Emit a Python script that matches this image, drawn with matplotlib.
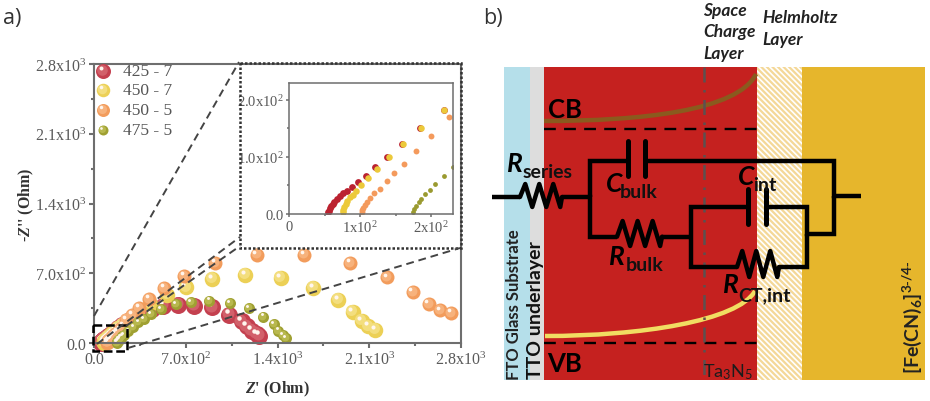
import matplotlib
matplotlib.use('Agg')
import matplotlib.pyplot as plt
from matplotlib.patches import PathPatch, Rectangle
from matplotlib.path import Path
from matplotlib.ticker import MultipleLocator
from matplotlib.transforms import ScaledTranslation

W, H = 930, 402
GRAY = '#6e6e6e'
SERIF = 'Liberation Serif'
SANS = 'Lato'

plt.rcParams['mathtext.fontset'] = 'custom'
plt.rcParams['mathtext.rm'] = SERIF
plt.rcParams['mathtext.it'] = 'Liberation Serif:italic:bold'
plt.rcParams['mathtext.default'] = 'regular'
plt.rcParams['hatch.linewidth'] = 1.6

# Nyquist data (Ohm)
series_names = ['425 - 7', '450 - 7', '450 - 5', '475 - 5']

red_x = [55.4, 56.3, 57.7, 59.2, 61.5, 63.8, 67.1, 71.8, 76.5, 81.2, 88.3, 97.7, 108.5, 121.6, 138.5, 159.2,
         184.5, 217.4, 260, 310, 370, 445, 529, 643, 763, 903, 1032, 1127, 1165, 1203, 1241, 1261]
red_y = [2.9, 5.8, 9.9, 13.3, 17.4, 21.4, 26.1, 31.9, 36.5, 40.6, 46.4, 55.1, 66.7, 82.3, 100.3, 121.7,
         149.6, 182, 220, 262, 305, 345, 375, 382, 375, 358, 284, 218, 167, 124, 90, 74]

yellow_x = [75.6, 76.5, 77.9, 79.8, 82.2, 85.9, 89.7, 94.4, 101.4, 110.8, 124.4, 140.4, 160.1, 185.4, 217.8,
            265, 330, 427, 555, 700, 903, 1152, 1424, 1673, 1864, 1974, 2042, 2093, 2144]
yellow_y = [2.9, 7, 11.6, 17.4, 22, 29, 33.6, 39.4, 50.4, 63.8, 79.4, 99.1, 121.7, 150.1, 182.6,
            225, 285, 392, 485, 559, 643, 686, 656, 552, 432, 314, 224, 167, 134]

orange_x = [102.3, 103.3, 104.7, 107, 110.3, 114.1, 120.2, 128.2, 137.6, 148.4, 162.4, 179.3, 199.1, 225.4,
            244, 292, 343, 420, 537, 687, 923, 1241, 1602, 1953, 2238, 2431, 2553, 2640, 2726]
orange_y = [2.9, 7, 10.4, 15.7, 21.4, 27.2, 36.5, 44.6, 57.4, 71.3, 88.1, 110.1, 136.2, 169.3,
            234, 281, 351, 442, 552, 673, 803, 887, 887, 800, 659, 509, 392, 328, 301]

olive_x = [175.1, 176.5, 178.9, 182.2, 185.9, 191.5, 197.7, 205.6, 217.4, 230, 262, 300, 338, 381, 432, 511,
           626, 738, 880, 1038, 1180, 1292, 1373, 1406, 1440, 1462]
olive_y = [4, 8.7, 14.5, 20.3, 26.1, 34.8, 42.3, 53.3, 66.7, 82.9, 120, 160, 207, 241, 291, 341,
           392, 408, 425, 402, 348, 264, 191, 124, 80, 47]

main_ticks = [0, 700, 1400, 2100, 2800]
main_tick_labels = ['0.0', '7.0x10$^{2}$', '1.4x10$^{3}$', '2.1x10$^{3}$', '2.8x10$^{3}$']
inset_xticks = [0, 100, 200]
inset_xtick_labels = ['0', '1x10$^{2}$', '2x10$^{2}$']
inset_yticks = [0, 100, 200]
inset_ytick_labels = ['0.0', '1.0x10$^{2}$', '2.0x10$^{2}$']


def px_axes(fig, left, top, right, bottom):
    return fig.add_axes([left / W, 1 - bottom / H, (right - left) / W, (bottom - top) / H])


def spheres(fig, ax, x, y, base, light, d, clip=True):
    # shaded ball: base disc, lighter core, small white glint
    s = (d * 0.72) ** 2
    ax.scatter(x, y, s=s, color=base, linewidths=0, clip_on=clip)
    core = ax.transData + ScaledTranslation(-0.08 * d / 100, 0.1 * d / 100, fig.dpi_scale_trans)
    ax.scatter(x, y, s=s * 0.5, color=light, linewidths=0, transform=core, clip_on=clip)
    glint = ax.transData + ScaledTranslation(-0.16 * d / 100, 0.2 * d / 100, fig.dpi_scale_trans)
    ax.scatter(x, y, s=s * 0.07, color='#fff6ee', linewidths=0, transform=glint, clip_on=clip)


def style_axes(ax, lw, length, xticks, xlabels, yticks, ylabels, minor, size):
    for spine in ax.spines.values():
        spine.set_color(GRAY)
        spine.set_linewidth(lw)
    ax.set_xticks(xticks, xlabels)
    ax.set_yticks(yticks, ylabels)
    ax.xaxis.set_minor_locator(MultipleLocator(minor))
    ax.yaxis.set_minor_locator(MultipleLocator(minor))
    ax.tick_params(which='major', length=length, width=lw, color=GRAY, labelcolor='#5a5a5a', labelsize=size, pad=2)
    ax.tick_params(which='minor', length=length * 0.6, width=lw, color=GRAY)
    for label in ax.get_xticklabels() + ax.get_yticklabels():
        label.set_family(SERIF)


def plot_nyquist(fig):
    ax = px_axes(fig, 94, 65, 461, 344)
    # order matters, olive sits on top
    spheres(fig, ax, red_x, red_y, '#c4404f', '#d2606a', 17, clip=False)
    spheres(fig, ax, yellow_x, yellow_y, '#ecd056', '#f3de7e', 15.5, clip=False)
    spheres(fig, ax, orange_x, orange_y, '#f29c5c', '#f7b27c', 14, clip=False)
    spheres(fig, ax, olive_x, olive_y, '#9fa032', '#b8b84e', 11, clip=False)
    style_axes(ax, 1.5, 3.5, main_ticks, main_tick_labels, main_ticks, main_tick_labels, 350, 11.5)
    ax.set_xlim(0, 2800)
    ax.set_ylim(0, 2800)

    inset = px_axes(fig, 289, 83.5, 452.5, 215)
    inset.scatter(red_x, red_y, s=24, color='#bb2230', linewidths=0)
    inset.scatter(yellow_x, yellow_y, s=22, color='#ecc93a', linewidths=0)
    inset.scatter(orange_x, orange_y, s=18, color='#f49a5c', linewidths=0)
    inset.scatter(olive_x, olive_y, s=12, color='#9a9a30', linewidths=0)
    style_axes(inset, 1.1, 2, inset_xticks, inset_xtick_labels, inset_yticks, inset_ytick_labels, 50, 10.5)
    inset.set_xlim(0, 230)
    inset.set_ylim(0, 230)


def zigzag(ov, x0, x1, y, top, bottom, n=3):
    # resistor symbol, n peaks between x0 and x1
    xs, ys = [x0], [y]
    step = (x1 - x0) / (2 * n)
    for i in range(n):
        xs += [x0 + step * (2 * i + 0.75), x0 + step * (2 * i + 1.75)]
        ys += [top, bottom]
    xs.append(x1)
    ys.append(y)
    ov.plot(xs, ys, color='black', lw=3.2, solid_joinstyle='round', solid_capstyle='round')


def wire(ov, xs, ys):
    ov.plot(xs, ys, color='black', lw=3.2, solid_joinstyle='miter', solid_capstyle='butt')


def plate(ov, x, y0, y1):
    ov.plot([x, x], [y0, y1], color='black', lw=3.6, solid_capstyle='round')


def band_edge(ov, points, color):
    codes = [Path.MOVETO, Path.CURVE4, Path.CURVE4, Path.CURVE4]
    ov.add_patch(PathPatch(Path(points, codes), fc='none', ec=color, lw=3.2, capstyle='butt', zorder=2))


def sub_label(ov, x, y, main_txt, sub_x, sub_y, sub_txt, size=19, sub_size=14):
    ov.text(x, y, main_txt, family=SANS, style='italic', weight='bold', fontsize=size, ha='left', va='baseline')
    ov.text(sub_x, sub_y, sub_txt, family=SANS, weight='bold', fontsize=sub_size, ha='left', va='baseline', color='#111111')


def draw_overlay(ov):
    # left panel: text, legend and zoom guides
    ov.text(3, 24, 'a)', family='Open Sans', fontsize=15.5, color='#333333', ha='left', va='baseline')
    ov.text(483, 24, 'b)', family='Open Sans', fontsize=15.5, color='#333333', ha='left', va='baseline')
    ov.text(26, 205, "-$\\mathit{Z}$'' (Ohm)", family=SERIF, weight='bold', fontsize=11.5, color='#333333',
            rotation=90, ha='center', va='center')
    ov.text(277, 389, "$\\mathit{Z}$' (Ohm)", family=SERIF, weight='bold', fontsize=11.5, color='#333333',
            ha='center', va='center')

    guide = dict(color='#444444', lw=1.4, ls=(0, (4, 2.5)))
    ov.plot([94, 239], [317, 63], **guide)
    ov.plot([97, 240], [345, 238], **guide)
    ov.plot([126, 240], [327, 247], **guide)
    ov.plot([128, 460], [349, 249], **guide)
    ov.add_patch(Rectangle((93, 326), 34, 26, fill=False, ec='black', lw=1.8, ls=(0, (3.5, 1.5))))
    ov.add_patch(Rectangle((240, 63.5), 220.5, 185, fill=False, ec='#333333', lw=1.8, ls=(0, (1, 0.8))))

    # right panel: bands
    top, bottom = 68, 381
    bands = [(504, 530, '#b5dfea'), (530, 544, '#dddddd'), (544, 757, '#c5211f'), (802, 925, '#e6b62c')]
    for x0, x1, color in bands:
        ov.add_patch(Rectangle((x0, top), x1 - x0, bottom - top, fc=color, ec='none', zorder=1))
    ov.add_patch(Rectangle((757, top), 45, bottom - top, fc='white', ec='#f4d898', hatch='\\\\\\\\\\\\', lw=0, zorder=1))

    # band edges
    band_edge(ov, [(544, 122), (640, 122), (738, 112), (756, 75)], '#8a5a1e')
    band_edge(ov, [(545, 337), (640, 337), (738, 322), (755, 292)], '#f1dd62')
    dash = dict(color='black', lw=1.7, ls=(0, (5, 3.5)))
    ov.plot([544, 757], [129.5, 129.5], **dash)
    ov.plot([544, 757], [343.5, 343.5], **dash)
    ov.plot([704, 704], [top, bottom], color='#5c5050', lw=1.8, ls=(0, (6, 3, 1, 3)))

    # equivalent circuit
    wire(ov, [492, 520], [198, 198])
    zigzag(ov, 520, 562, 198, 185, 208)
    wire(ov, [562, 590, 590, 617], [198, 198, 237.7, 237.7])
    wire(ov, [590, 590, 627], [198, 162, 162])
    plate(ov, 627.5, 142, 177)
    plate(ov, 644.5, 142, 177)
    wire(ov, [644, 834, 834, 861], [162, 162, 197, 197])
    wire(ov, [834, 834, 807, 807, 766], [197, 235, 235, 208, 208])
    zigzag(ov, 617, 662, 237.7, 222, 247)
    wire(ov, [662, 691], [237.7, 237.7])
    wire(ov, [747, 691, 691, 737], [208, 208, 268, 268])
    plate(ov, 747.5, 190, 225)
    plate(ov, 766, 190, 225)
    zigzag(ov, 737, 779, 268, 252, 278)
    wire(ov, [779, 807, 807], [268, 268, 235])

    # circuit and band labels
    ov.text(548, 118, 'CB', family=SANS, weight='bold', fontsize=18.5, va='baseline')
    ov.text(547, 372, 'VB', family=SANS, weight='bold', fontsize=18.5, va='baseline')
    sub_label(ov, 507, 172, 'R', 523, 178, 'series')
    sub_label(ov, 606, 192, 'C', 620, 198, 'bulk')
    sub_label(ov, 609, 265, 'R', 626, 271, 'bulk')
    sub_label(ov, 738, 185, 'C', 753, 191, 'int')
    sub_label(ov, 723, 293, 'R', 738, 301, 'CT,int')
    ov.text(703, 377, 'Ta$_{3}$N$_{5}$', family=SANS, fontsize=13, color='#1c1c1c', va='baseline')
    ov.text(513.5, 380, 'FTO Glass Substrate', family=SANS, fontsize=12, weight='bold', color='#222222',
            rotation=90, ha='center', va='bottom')
    ov.text(535, 379, 'TTO underlayer', family=SANS, fontsize=14, weight='bold', color='#111111',
            rotation=90, ha='center', va='bottom')
    ov.text(912, 374, '[Fe(CN)$_{6}$]$^{3\\text{-}/4\\text{-}}$', family=SANS, fontsize=14, weight='bold',
            color='#222222', rotation=90, ha='center', va='bottom')
    for line, y in zip(['Space', 'Charge', 'Layer'], [11, 32, 54]):
        ov.text(703, y, line, family=SANS, style='italic', weight='bold', fontsize=12.5, color='#222222', va='center')
    for line, y in zip(['Helmholtz', 'Layer'], [18, 40]):
        ov.text(762, y, line, family=SANS, style='italic', weight='bold', fontsize=12.5, color='#222222', va='center')


def draw_legend(fig, ov):
    colors = [('#c4404f', '#d2606a', 15), ('#ecd056', '#f3de7e', 13.5), ('#f29c5c', '#f7b27c', 13), ('#9fa032', '#b8b84e', 10)]
    for name, y, (base, light, d) in zip(series_names, [72, 91, 111, 131], colors):
        spheres(fig, ov, [103], [y], base, light, d)
        ov.text(123, y, name, family=SERIF, fontsize=12.5, color='#555555', va='center')


def main():
    fig = plt.figure(figsize=(W / 100, H / 100), dpi=100)
    plot_nyquist(fig)

    # transparent overlay in image pixels for everything that is not data
    ov = fig.add_axes([0, 0, 1, 1])
    ov.set_xlim(0, W)
    ov.set_ylim(H, 0)
    ov.axis('off')
    draw_overlay(ov)
    draw_legend(fig, ov)
    ov.set_xlim(0, W)
    ov.set_ylim(H, 0)

    fig.savefig('out.png', dpi=100)
    plt.close(fig)


if __name__ == "__main__":
    main()
